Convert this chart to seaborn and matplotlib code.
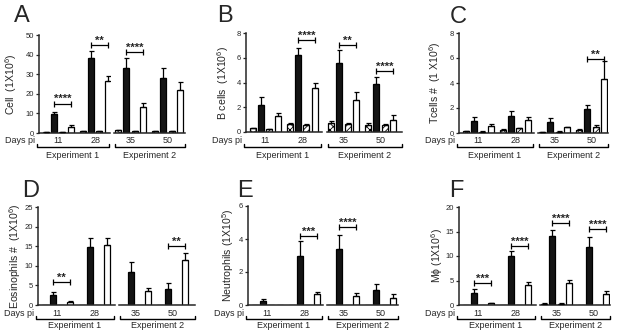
import numpy as np
import pandas as pd
import matplotlib.pyplot as plt
import matplotlib.transforms as mtransforms
from matplotlib.lines import Line2D
import seaborn as sns

sns.set_style("ticks")
plt.rcParams.update({
    "font.family": ["Liberation Sans", "DejaVu Sans"],
    "mathtext.fontset": "custom",
    "mathtext.rm": "Liberation Sans",
    "mathtext.it": "Liberation Sans",
    "mathtext.default": "regular",
    "hatch.linewidth": 0.6,
    "axes.linewidth": 1.1,
})

# ---- data (rows = day, columns = group) ----
days = ["11", "28", "35", "50"]
groups = ["group 1", "group 2", "group 3", "group 4"]

cell_mean = [[0.4, 9.5, 0.4, 3.3], [0.9, 38.2, 0.9, 26.4], [1.3, 33.4, 1.0, 13.3], [0.8, 28.0, 1.0, 22.0]]
cell_err = [[0.1, 1.3, 0.1, 0.8], [0.2, 3.5, 0.2, 2.9], [0.3, 5.0, 0.2, 2.0], [0.2, 5.2, 0.2, 4.0]]
cell_sig = [("11", "****", 15.0), ("28", "**", 45.0), ("35", "****", 41.3)]

bcell_mean = [[0.3, 2.15, 0.25, 1.3], [0.65, 6.25, 0.6, 3.55], [0.75, 5.6, 0.65, 2.6], [0.6, 3.9, 0.55, 0.97]]
bcell_err = [[0.05, 0.65, 0.03, 0.2], [0.1, 0.55, 0.05, 0.45], [0.1, 1.0, 0.1, 0.6], [0.15, 0.55, 0.1, 0.37]]
bcell_sig = [("28", "****", 7.4), ("35", "**", 7.0), ("50", "****", 4.9)]

tcell_mean = [[0.15, 0.93, 0.1, 0.59], [0.25, 1.39, 0.37, 1.07], [0.05, 0.85, 0.1, 0.45], [0.25, 1.95, 0.45, 4.32]]
tcell_err = [[0.03, 0.35, 0.03, 0.16], [0.05, 0.34, 0.05, 0.21], [0.02, 0.35, 0.03, 0.06], [0.05, 0.32, 0.19, 1.41]]
tcell_sig = [("50", "**", 5.9)]

eos_mean = [[0, 2.5, 0, 0.67], [0, 14.8, 0, 15.2], [0, 8.4, 0, 3.6], [0, 4.2, 0, 11.5]]
eos_err = [[0, 0.7, 0, 0.43], [0, 2.4, 0, 2.0], [0, 2.6, 0, 0.7], [0, 1.3, 0, 1.8]]
eos_sig = [("11", "**", 5.9), ("50", "**", 15.0)]

neu_mean = [[0, 0.26, 0, 0], [0, 2.96, 0, 0.66], [0.03, 3.42, 0.03, 0.56], [0, 0.9, 0, 0.4]]
neu_err = [[0, 0.1, 0, 0], [0, 0.9, 0, 0.14], [0, 0.84, 0, 0.14], [0, 0.4, 0, 0.26]]
neu_sig = [("28", "***", 4.2), ("35", "****", 4.7)]

mac_mean = [[0.1, 2.4, 0.1, 0.35], [0.1, 10.0, 0.1, 4.0], [0.3, 14.1, 0.3, 4.4], [0.1, 11.8, 0.1, 2.2]]
mac_err = [[0, 0.8, 0, 0.05], [0, 1.0, 0, 0.7], [0.05, 1.3, 0.05, 0.8], [0, 2.1, 0, 0.7]]
mac_sig = [("11", "***", 4.5), ("28", "****", 12.1), ("35", "****", 16.8), ("50", "****", 15.5)]

experiments = ["Experiment 1", "Experiment 2"]
exp_days = [["11", "28"], ["35", "50"]]

palette = {"group 1": "white", "group 2": "#141414", "group 3": "white", "group 4": "white"}
hatches = ["xxxxx", None, "//////", None]

W, H = 617, 334
fig = plt.figure(figsize=(W / 100, H / 100), dpi=100, facecolor="white")


def fx(p):
    return p / W


def fy(p):
    return 1 - p / H


def draw_panel(letter, means, errs, sig, ylabel, ymax, ystep, geom, ylab_cx, letter_xy, rows):
    left, r1, l2, right, top, base = geom
    row_lab, row_br, row_txt = rows
    unit = 37.0
    df = pd.DataFrame([(d, g, means[i][j], errs[i][j])
                       for i, d in enumerate(days) for j, g in enumerate(groups)],
                      columns=["day", "group", "value", "err"])
    spans = [(left, r1, -0.52), (l2, right, -0.45)]
    for k, (a, b, x0) in enumerate(spans):
        ax = fig.add_axes([fx(a), fy(base), fx(b - a), (base - top) / H])
        sub = df[df["day"].isin(exp_days[k])]
        sns.barplot(data=sub, x="day", y="value", hue="group", order=exp_days[k],
                    hue_order=groups, palette=palette, width=0.9, gap=0.28,
                    errorbar=None, edgecolor="black", linewidth=0.9,
                    saturation=1, legend=False, ax=ax)
        ax.set_xlim(x0, x0 + (b - a) / unit)
        ax.set_ylim(0, ymax)
        ax.set_xlabel("")
        ax.set_ylabel("")
        ax.set_xticks([])
        sns.despine(ax=ax)
        ax.spines["bottom"].set_linewidth(1.1)
        ax.patch.set_alpha(0)
        lookup = {}
        bar_conts = list(ax.containers)
        for gi, cont in enumerate(bar_conts):
            for di, bar in enumerate(cont):
                if hatches[gi]:
                    bar.set_hatch(hatches[gi])
                xc = bar.get_x() + bar.get_width() / 2
                h = bar.get_height()
                d = exp_days[k][di]
                e = sub[(sub["day"] == d) & (sub["group"] == groups[gi])]["err"].iloc[0]
                lookup[(d, gi)] = xc
                if e > 0:
                    ax.errorbar([xc], [h], yerr=[[0], [e]], fmt="none", ecolor="black",
                                elinewidth=0.9, capsize=1.8, capthick=0.9, zorder=5)
        for d, stars, yv in sig:
            if d in exp_days[k]:
                x1, x2 = lookup[(d, 1)], lookup[(d, 3)]
                ax.plot([x1, x2], [yv, yv], color="black", lw=0.9, clip_on=False)
                ax.plot([x1, x2], [yv, yv], ls="none", marker="|", ms=5,
                        mew=0.9, color="black", clip_on=False)
                ax.annotate(stars, ((x1 + x2) / 2, yv), xytext=(0, -0.5),
                            textcoords="offset points", ha="center", va="bottom",
                            fontsize=8, fontweight="bold")
        tr = mtransforms.blended_transform_factory(ax.transData, fig.transFigure)
        for di, d in enumerate(exp_days[k]):
            ax.text(di, fy(row_lab), d, transform=tr, ha="center", va="center", fontsize=6.5)
        # experiment bracket
        ba, bb = (a - 2, b - 1) if k == 0 else (a + 1, b)
        yb = fy(row_br)
        tk = 3.5 / H
        fig.add_artist(Line2D([fx(ba), fx(ba), fx(bb), fx(bb)], [yb + tk, yb, yb, yb + tk],
                              color="black", lw=1.0, transform=fig.transFigure))
        fig.text(fx((ba + bb) / 2), fy(row_txt), experiments[k], ha="center", va="center",
                 fontsize=6.5)
        if k == 0:
            ax.set_yticks(np.arange(0, ymax + ystep / 2, ystep))
            ax.tick_params(axis="y", length=2.5, width=0.9, labelsize=5.5, pad=1)
            ax.spines["left"].set_linewidth(1.1)
            ax.set_ylabel(ylabel, fontsize=7.6)
            ax.yaxis.set_label_coords((ylab_cx + 5 - a) / (b - a), 0.5)
        else:
            ax.spines["left"].set_visible(False)
            ax.set_yticks([])
    fig.text(fx(left - 4), fy(row_lab), "Days pi", ha="right", va="center", fontsize=6.5)
    fig.text(fx(letter_xy[0]), fy(letter_xy[1]), letter, ha="left", va="top",
             fontsize=17, fontweight="light")


top_rows = (141, 147, 156)
bot_rows = (313, 319, 326)

draw_panel("A", cell_mean, cell_err, cell_sig, "Cell  (1X10$^6$)", 50, 10,
           (39, 110, 114, 185, 35, 133), 14, (14, 5), top_rows)
draw_panel("B", bcell_mean, bcell_err, bcell_sig, "B cells  (1X10$^6$)", 8, 2,
           (246, 322, 327, 402, 33, 132), 226, (217, 5), top_rows)
draw_panel("C", tcell_mean, tcell_err, tcell_sig, "Tcells #  (1 X10$^6$)", 8, 2,
           (459, 534, 538, 608, 33, 133), 438, (450, 6), top_rows)
draw_panel("D", eos_mean, eos_err, eos_sig, "Eosinophils #  (1X10$^6$)", 25, 5,
           (38, 115, 119, 195, 207, 305), 18, (22, 180), bot_rows)
draw_panel("E", neu_mean, neu_err, neu_sig, "Neutrophils (1X10$^5$)", 6, 2,
           (248, 323, 327, 398, 206, 305), 231, (237, 180), bot_rows)
draw_panel("F", mac_mean, mac_err, mac_sig, "M\u03d5 (1X10$^6$)", 20, 5,
           (459, 536, 540, 610, 207, 305), 440, (449, 180), bot_rows)

fig.savefig("out.png", dpi=100, facecolor="white")
plt.close(fig)
